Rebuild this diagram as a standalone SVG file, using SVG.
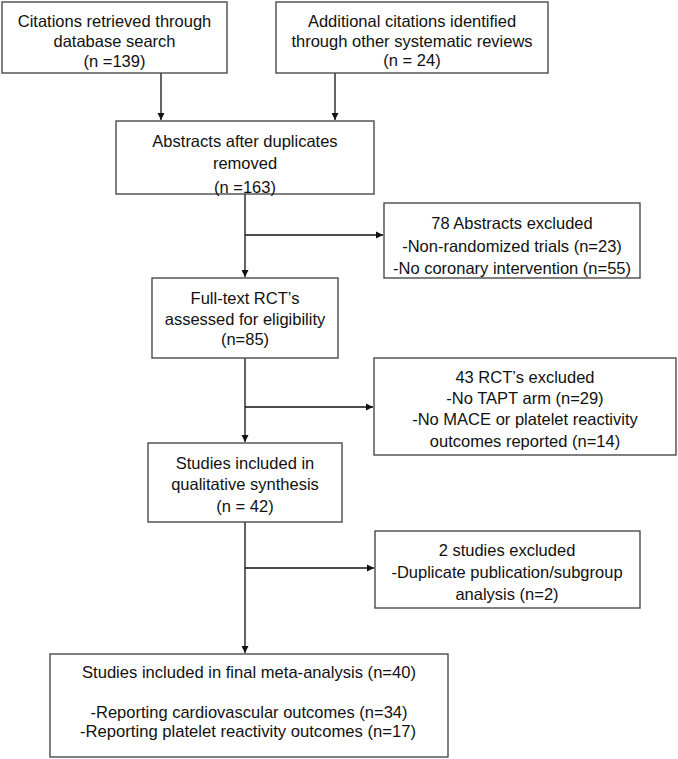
<svg xmlns="http://www.w3.org/2000/svg" width="678" height="759" viewBox="0 0 678 759">
<style>
.box{fill:#fff;stroke:#4a4a4a;stroke-width:1.4}
.t{font-family:"Liberation Sans",Arial,sans-serif;font-size:16.5px;fill:#111;text-anchor:middle}
.n{font-family:"Liberation Sans",Arial,sans-serif;font-size:17px;fill:#111;text-anchor:middle}
.c{fill:none;stroke:#111;stroke-width:1.3}
</style>
<defs>
<marker id="ah" markerWidth="8" markerHeight="8" refX="7" refY="4" orient="auto" markerUnits="userSpaceOnUse">
<path d="M0,0.5 L7,4 L0,7.5 Z" fill="#111"/>
</marker>
</defs>
<rect width="678" height="759" fill="#fff"/>
<g id="connectors">
<line class="c" x1="161" y1="73" x2="161" y2="120" marker-end="url(#ah)"/>
<line class="c" x1="335" y1="73" x2="335" y2="120" marker-end="url(#ah)"/>
<line class="c" x1="245" y1="194" x2="245" y2="277" marker-end="url(#ah)"/>
<line class="c" x1="245" y1="235" x2="383" y2="235" marker-end="url(#ah)"/>
<line class="c" x1="245" y1="358" x2="245" y2="442" marker-end="url(#ah)"/>
<line class="c" x1="245" y1="407" x2="373" y2="407" marker-end="url(#ah)"/>
<line class="c" x1="245" y1="522" x2="245" y2="653" marker-end="url(#ah)"/>
<line class="c" x1="245" y1="568" x2="374" y2="568" marker-end="url(#ah)"/>
</g>
<g id="n1">
<rect class="box" x="2" y="2" width="225" height="71"/>
<text class="t" x="114.5" y="27">Citations retrieved through</text>
<text class="t" x="114.5" y="47">database search</text>
<text class="t" x="114.5" y="67">(n =139)</text>
</g>
<g id="n2">
<rect class="box" x="276" y="2" width="272" height="71"/>
<text class="t" x="412" y="27">Additional citations identified</text>
<text class="t" x="412" y="47">through other systematic reviews</text>
<text class="t" x="412" y="66">(n = 24)</text>
</g>
<g id="n3">
<rect class="box" x="116" y="121" width="258" height="73"/>
<text class="t" x="245" y="147">Abstracts after duplicates</text>
<text class="t" x="245" y="169">removed</text>
<text class="t" x="245" y="193">(n =163)</text>
</g>
<g id="n4">
<rect class="box" x="384" y="203" width="256" height="75"/>
<text class="t" x="512" y="229">78 Abstracts excluded</text>
<text class="t" x="512" y="252">-Non-randomized trials (n=23)</text>
<text class="t" x="512" y="274">-No coronary intervention (n=55)</text>
</g>
<g id="n5">
<rect class="box" x="152" y="278" width="186" height="80"/>
<text class="t" x="245" y="304">Full-text RCT’s</text>
<text class="t" x="245" y="325">assessed for eligibility</text>
<text class="t" x="245" y="345">(n=85)</text>
</g>
<g id="n6">
<rect class="box" x="374" y="358" width="302" height="97"/>
<text class="t" x="525" y="383">43 RCT’s excluded</text>
<text class="t" x="525" y="404">-No TAPT arm (n=29)</text>
<text class="t" x="525" y="425">-No MACE or platelet reactivity</text>
<text class="t" x="525" y="447">outcomes reported (n=14)</text>
</g>
<g id="n7">
<rect class="box" x="148" y="443" width="194" height="79"/>
<text class="t" x="245" y="469">Studies included in</text>
<text class="t" x="245" y="490">qualitative synthesis</text>
<text class="t" x="245" y="512">(n = 42)</text>
</g>
<g id="n8">
<rect class="box" x="375" y="531" width="265" height="77"/>
<text class="t" x="507" y="556">2 studies excluded</text>
<text class="t" x="507" y="578">-Duplicate publication/subgroup</text>
<text class="t" x="507" y="600">analysis (n=2)</text>
</g>
<g id="n9">
<rect class="box" x="50" y="654" width="398" height="103"/>
<text class="n" x="249" y="678" textLength="334" lengthAdjust="spacingAndGlyphs">Studies included in final meta-analysis (n=40)</text>
<text class="n" x="249" y="718" textLength="317" lengthAdjust="spacingAndGlyphs">-Reporting cardiovascular outcomes (n=34)</text>
<text class="n" x="248" y="737" textLength="336" lengthAdjust="spacingAndGlyphs">-Reporting platelet reactivity outcomes (n=17)</text>
</g>
</svg>
